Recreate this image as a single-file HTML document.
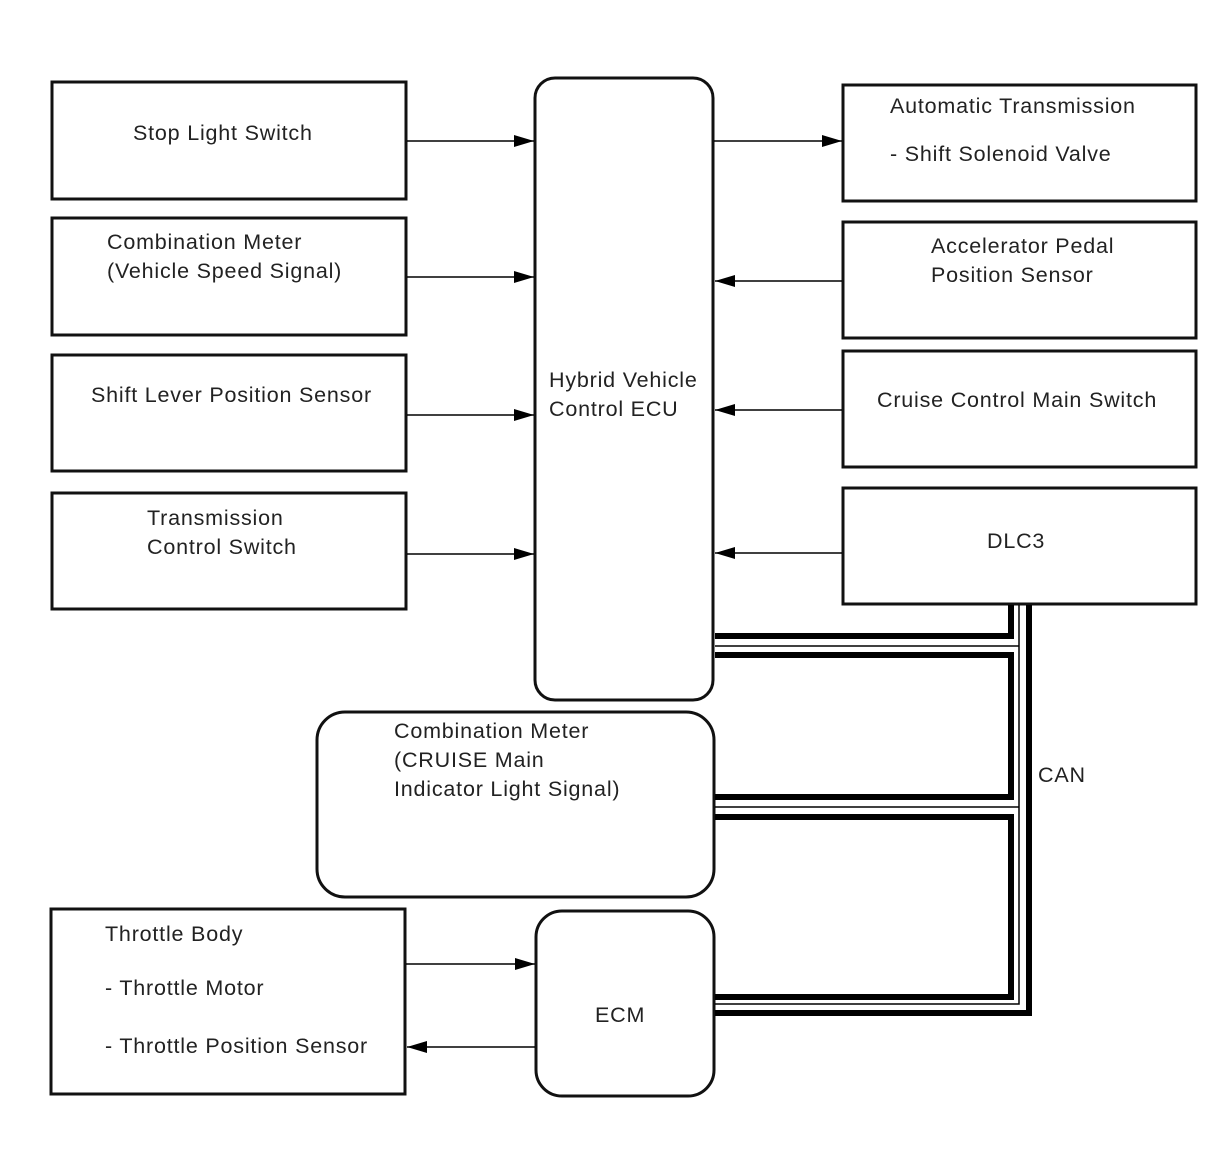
<!DOCTYPE html>
<html><head><meta charset="utf-8"><style>
html,body{margin:0;padding:0;background:#fff;}
svg text{font-family:"Liberation Sans",Arial,sans-serif;font-size:21.5px;letter-spacing:0.8px;fill:#222;}
</style></head><body>
<svg width="1210" height="1156" viewBox="0 0 1210 1156" xmlns="http://www.w3.org/2000/svg">
<defs>
<marker id="a" markerWidth="20" markerHeight="12" refX="20" refY="6" orient="auto" markerUnits="userSpaceOnUse">
<path d="M0,0 L20,6 L0,12 Z" fill="#000"/></marker>
</defs>
<g fill="none" stroke="#111" stroke-width="3">
<rect x="52" y="82" width="354" height="117"/>
<rect x="52" y="218" width="354" height="117"/>
<rect x="52" y="355" width="354" height="116"/>
<rect x="52" y="493" width="354" height="116"/>
<rect x="843" y="85" width="353" height="116"/>
<rect x="843" y="222" width="353" height="116"/>
<rect x="843" y="351" width="353" height="116"/>
<rect x="843" y="488" width="353" height="116"/>
<rect x="51" y="909" width="354" height="185"/>
<rect x="535" y="78" width="178" height="622" rx="20"/>
<rect x="317" y="712" width="397" height="185" rx="28"/>
<rect x="536" y="911" width="178" height="185" rx="26"/>
</g>
<g stroke="#000" stroke-width="1.5" marker-end="url(#a)">
<line x1="407" y1="141" x2="534" y2="141"/>
<line x1="407" y1="277" x2="534" y2="277"/>
<line x1="407" y1="415" x2="534" y2="415"/>
<line x1="407" y1="554" x2="534" y2="554"/>
<line x1="714" y1="141" x2="842" y2="141"/>
<line x1="842" y1="281" x2="715" y2="281"/>
<line x1="842" y1="410" x2="715" y2="410"/>
<line x1="842" y1="553" x2="715" y2="553"/>
<line x1="406" y1="964" x2="535" y2="964"/>
<line x1="535" y1="1047" x2="407" y2="1047"/>
</g>
<g fill="none" stroke="#000" stroke-width="6">
<polyline points="715,636 1011,636 1011,605"/>
<polyline points="715,655 1011,655 1011,797 715,797"/>
<polyline points="715,817 1011,817 1011,997 715,997"/>
<polyline points="715,1013 1029,1013 1029,605"/>
</g>
<g fill="none" stroke="#000" stroke-width="1.5">
<polyline points="715,646 1019,646"/>
<polyline points="715,807 1019,807"/>
<polyline points="715,1004 1019,1004 1019,605"/>
</g>
<text x="133" y="140">Stop Light Switch</text>
<text x="107" y="249">Combination Meter</text>
<text x="107" y="278">(Vehicle Speed Signal)</text>
<text x="91" y="402">Shift Lever Position Sensor</text>
<text x="147" y="525">Transmission</text>
<text x="147" y="554">Control Switch</text>
<text x="549" y="387">Hybrid Vehicle</text>
<text x="549" y="416">Control ECU</text>
<text x="890" y="113">Automatic Transmission</text>
<text x="890" y="161">- Shift Solenoid Valve</text>
<text x="931" y="253">Accelerator Pedal</text>
<text x="931" y="282">Position Sensor</text>
<text x="877" y="407">Cruise Control Main Switch</text>
<text x="987" y="548">DLC3</text>
<text x="394" y="738">Combination Meter</text>
<text x="394" y="767">(CRUISE Main</text>
<text x="394" y="796">Indicator Light Signal)</text>
<text x="1038" y="782">CAN</text>
<text x="105" y="941">Throttle Body</text>
<text x="105" y="995">- Throttle Motor</text>
<text x="105" y="1053">- Throttle Position Sensor</text>
<text x="595" y="1022">ECM</text>
</svg>
</body></html>
